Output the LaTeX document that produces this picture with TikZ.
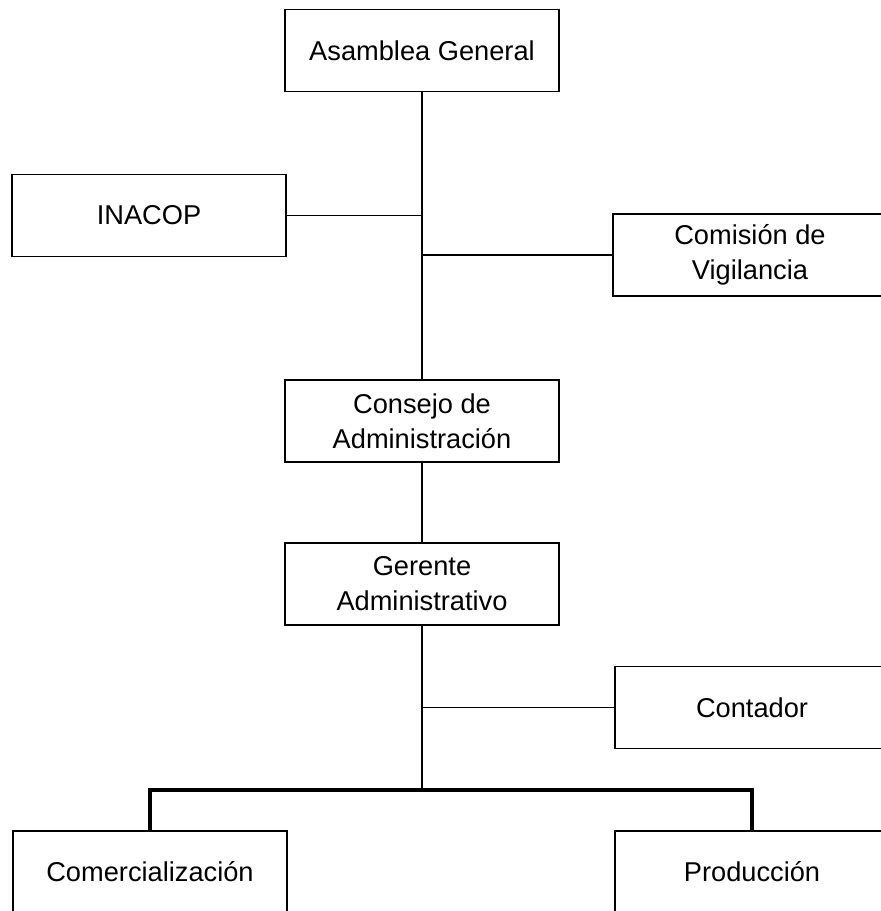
\documentclass[tikz,border=0pt]{standalone}
\usepackage{fontspec}
\setmainfont{Liberation Sans}

\begin{document}
\begin{tikzpicture}[x=0.02cm,y=-0.02cm,
    cargo/.style={draw,line width=1pt,minimum width=5.48cm,minimum height=1.64cm,
        align=center,inner sep=0pt,font=\fontsize{15.5}{20}\selectfont},
    enlace/.style={line width=0.8pt},
    barra/.style={line width=1.8pt}]
    \useasboundingbox (0,0) rectangle (880,911);
    \node[cargo] (asamblea) at (422,50.5) {Asamblea General};
    \node[cargo] (inacop) at (149,215.5) {INACOP};
    \node[cargo] (comision) at (750,255) {Comisión de\\Vigilancia};
    \node[cargo] (consejo) at (422,421) {Consejo de\\Administración};
    \node[cargo] (gerente) at (422,584) {Gerente\\Administrativo};
    \node[cargo] (contador) at (752,707.5) {Contador};
    \node[cargo] (comercial) at (150,872) {Comercialización};
    \node[cargo] (produccion) at (752,872) {Producción};
    \coordinate (bus) at (422,790);
    \draw[enlace] (asamblea.south) -- (consejo.north);
    \draw[enlace] (inacop.east) -- (inacop.east -| asamblea.south);
    \draw[enlace] (comision.west) -- (comision.west -| asamblea.south);
    \draw[enlace] (consejo.south) -- (gerente.north);
    \draw[enlace] (gerente.south) -- (bus);
    \draw[enlace] (contador.west) -- (contador.west -| gerente.south);
    \draw[barra] (comercial.north) -- (comercial.north |- bus) -- (produccion.north |- bus) -- (produccion.north);
\end{tikzpicture}
\end{document}
